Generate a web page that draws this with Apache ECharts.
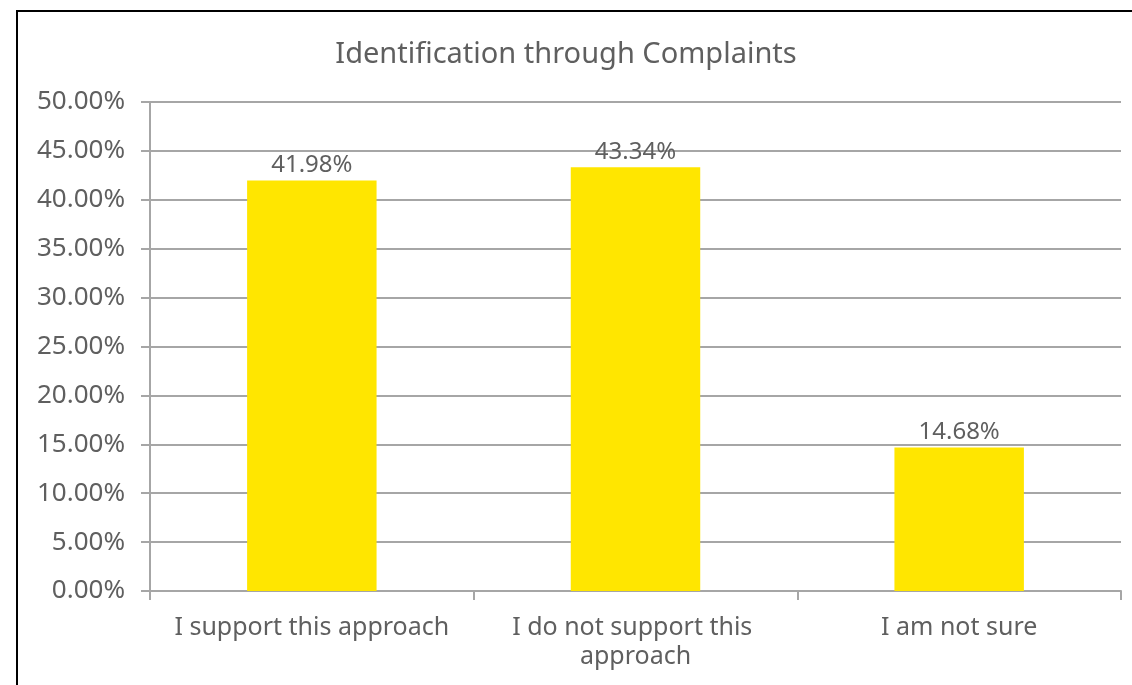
<!DOCTYPE html>
<html>
<head>
<meta charset="utf-8">
<script src="https://cdn.jsdelivr.net/npm/echarts@6/dist/echarts.min.js"></script>
<style>
  html, body { margin: 0; padding: 0; background: #fff; }
  #chart { width: 1132px; height: 685px; }
</style>
</head>
<body>
<div id="chart"></div>
<script>
// data
let categories = ['I support this approach', 'I do not support this approach', 'I am not sure']
let shares = [41.98, 43.34, 14.68]
let yTicks = { min: 0, max: 50, interval: 5 }

let chart = echarts.init(document.getElementById('chart'))
let textGrey = '#5f5f5f'
let lineGrey = '#a6a6a6'

let option = {
  backgroundColor: '#fff',
  animation: false,
  textStyle: { fontFamily: 'Noto Sans' },
  graphic: [
    { // outer frame, right and bottom edges run off the picture
      type: 'rect',
      shape: { x: 17, y: 11, width: 1200, height: 800 },
      style: { fill: 'none', stroke: '#000', lineWidth: 2 },
      silent: true
    }
  ],
  title: {
    text: 'Identification through Complaints',
    left: 'center',
    top: 35,
    textStyle: { color: textGrey, fontSize: 29, fontWeight: 'normal', fontFamily: 'Noto Sans' }
  },
  grid: { left: 150, right: 11, top: 102, bottom: 94 },
  xAxis: {
    type: 'category',
    data: categories,
    axisLine: { lineStyle: { color: lineGrey, width: 2 } },
    axisTick: { show: true, length: 9, lineStyle: { color: lineGrey, width: 2 } },
    axisLabel: {
      color: textGrey,
      fontSize: 25,
      margin: 22,
      lineHeight: 29,
      width: 310,
      overflow: 'break',
      interval: 0
    }
  },
  yAxis: {
    type: 'value',
    min: yTicks.min,
    max: yTicks.max,
    interval: yTicks.interval,
    axisLine: { show: true, lineStyle: { color: lineGrey, width: 2 } },
    axisTick: { show: true, length: 9, lineStyle: { color: lineGrey, width: 2 } },
    splitLine: { lineStyle: { color: lineGrey, width: 2 } },
    axisLabel: {
      color: textGrey,
      fontSize: 26,
      margin: 25,
      formatter: v => v.toFixed(2) + '%'
    }
  },
  series: [
    {
      type: 'bar',
      data: shares,
      barWidth: '40%',
      itemStyle: { color: '#ffe600' },
      label: {
        show: true,
        position: 'top',
        distance: 3,
        color: textGrey,
        fontSize: 24,
        formatter: p => p.value.toFixed(2) + '%'
      }
    }
  ]
}
chart.setOption(option)
</script>
</body>
</html>
